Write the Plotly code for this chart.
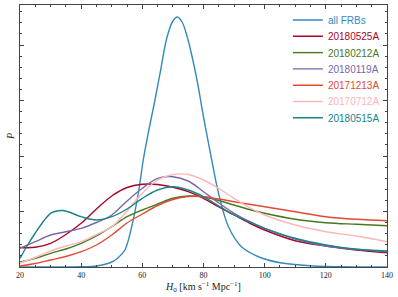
import plotly.graph_objects as go

# H0 grid shared by the individual FRB curves
H = [20, 25, 30, 35, 40, 45, 50, 55, 60, 65, 70, 75, 80, 85, 90, 95, 100, 110, 120, 130, 140]

p_20180525A = [19.5, 19.7, 23.7, 32.5, 43.7, 58, 71, 79.5, 82.7, 82.5, 79.7, 75.3, 68.7, 60, 52, 44, 37, 26.3, 21, 17, 14.3]
p_20180212A = [5, 8.7, 13.7, 18, 23.7, 31, 40.3, 50.3, 57, 63, 68.7, 71, 70.3, 66.5, 62, 57.5, 53.7, 47.7, 44.3, 42.7, 41.3]
p_20180119A = [18.7, 25.3, 32, 35.3, 38.7, 44.5, 52, 66, 78.7, 88.7, 90.3, 86, 75.3, 64, 53.7, 45.5, 38.7, 28, 21, 17.7, 15.3]
p_20171213A = [1, 3.5, 7, 10.5, 15.3, 22, 32, 44, 53, 61.5, 67.5, 70.5, 70.3, 68, 65.3, 62.8, 60.3, 55.3, 50.3, 47.7, 46.3]
p_20170712A = [4, 9.5, 16, 21, 25.3, 32.5, 40.3, 56, 73.7, 87, 92.5, 92.5, 87, 78.5, 68.7, 59.5, 52, 42, 35.3, 31, 25.3]

H_teal = [20, 22.5, 25, 27.5, 30, 32, 34, 36, 40, 45, 50, 55, 60, 65, 70, 75, 80, 85, 90, 95, 100, 110, 120, 130, 140]
p_20180515A = [8.7, 22, 34, 45, 53.7, 56, 56.5, 55, 50.3, 47, 50.3, 58, 68.7, 77, 80.3, 77, 70.3, 61, 52, 45, 38.7, 28.7, 22, 17.7, 16]

H_all = [20, 40, 45, 50, 52, 54.3, 56.5, 58.7, 60.3, 62, 64, 66, 68, 70, 71.5, 73, 74.5, 76, 78, 80, 82.7, 84.9, 88.2, 92.5, 99, 105.6, 116, 125, 140]
p_all = [0, 0.2, 1, 5, 9, 17, 40, 74, 107, 135, 165, 197, 229, 246, 250, 245, 232, 214, 185, 150, 107, 74, 40, 20, 9, 4, 1, 0.3, 0]

x_ticks = [20, 40, 60, 80, 100, 120, 140]

series = [
    ("all FRBs", H_all, p_all, "#348ABD"),
    ("20180525A", H, p_20180525A, "#A60628"),
    ("20180212A", H, p_20180212A, "#467821"),
    ("20180119A", H, p_20180119A, "#7A68A6"),
    ("20171213A", H, p_20171213A, "#E24A33"),
    ("20170712A", H, p_20170712A, "#FFB5B8"),
    ("20180515A", H_teal, p_20180515A, "#188487"),
]

fig = go.Figure()
legend_layout = {}
for i, (name, xs, ys, col) in enumerate(series):
    lg = "legend" if i == 0 else f"legend{i + 1}"
    fig.add_trace(go.Scatter(
        x=xs, y=ys, mode="lines", name=name, legend=lg,
        line=dict(color=col, width=1.4, shape="spline", smoothing=1.0),
    ))
    # one legend per entry so that text colour and row spacing match
    entry_py = 20 + 16.3 * i          # pixel row of the entry
    legend_layout[lg] = dict(
        x=0.73, y=(267 - entry_py) / 262, xanchor="left", yanchor="middle",
        bgcolor="rgba(0,0,0,0)", borderwidth=0,
        font=dict(family="Liberation Sans", size=10, color=col),
        itemwidth=30,
    )

axis_common = dict(
    showline=True, linecolor="#444", linewidth=1, mirror="allticks",
    ticks="inside", tickcolor="#444", showgrid=False, zeroline=False,
    automargin=False,
)

fig.update_layout(
    width=398, height=297,
    margin=dict(l=20, r=11, t=5, b=30, autoexpand=False),
    paper_bgcolor="white", plot_bgcolor="white",
    font=dict(family="Liberation Serif", size=8, color="#222"),
    showlegend=True,
    xaxis=dict(
        range=[20, 140], tickvals=x_ticks, ticklen=4, tickwidth=1,
        minor=dict(dtick=5, ticks="inside", ticklen=2, tickcolor="#444"),
        title=dict(text="<i>H</i><sub>0</sub> [km s<sup>−1</sup> Mpc<sup>−1</sup>]",
                   font=dict(family="Liberation Serif", size=10), standoff=3),
        tickfont=dict(family="Liberation Serif", size=8),
        **axis_common,
    ),
    yaxis=dict(
        range=[0, 262], dtick=55.5, tick0=0, ticklen=4, tickwidth=1,
        showticklabels=False,
        minor=dict(dtick=11.1, ticks="inside", ticklen=2, tickcolor="#444"),
        title=dict(text="<i>P</i>", font=dict(family="Liberation Serif", size=10), standoff=2),
        **axis_common,
    ),
    **legend_layout,
)

fig.write_html("out.html", config={"displayModeBar": False},
               post_script="document.body.style.margin='0';")
